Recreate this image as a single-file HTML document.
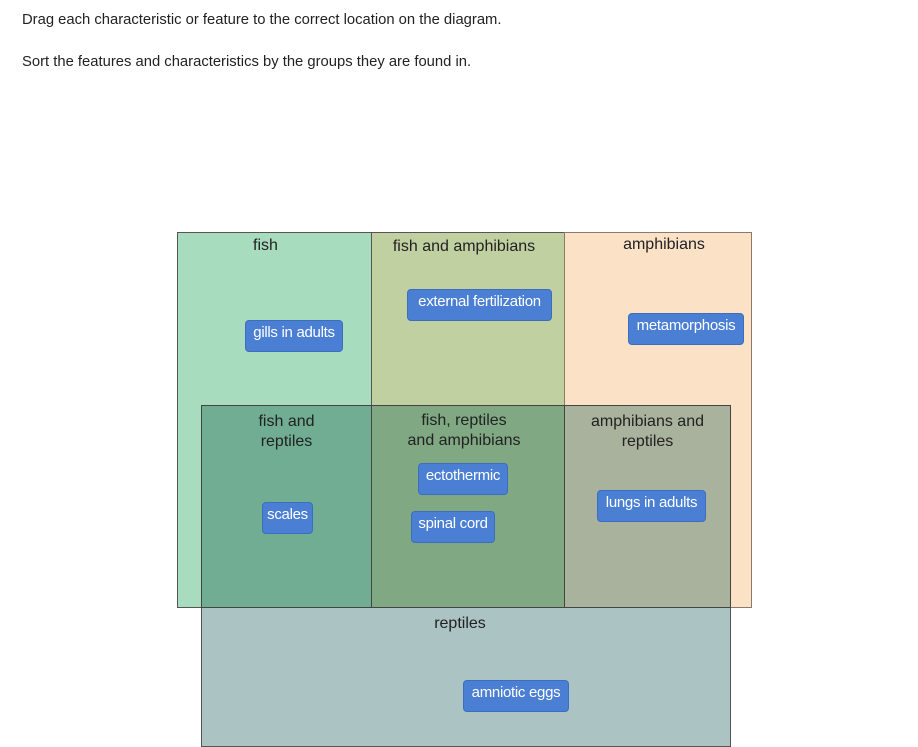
<!DOCTYPE html>
<html><head><meta charset="utf-8"><style>
body{margin:0;width:918px;height:738px;background:#fff;position:relative;overflow:hidden;font-family:"Liberation Sans",Arial,sans-serif}
.p{position:absolute;left:22px;font-size:14.8px;color:#222;margin:0}
.b{position:absolute;box-sizing:border-box}
.l{position:absolute;font-size:16px;color:#222;text-align:center;line-height:20px}
.c{position:absolute;background:#4a7fd4;color:#fff;font-size:15px;border-radius:4px;box-sizing:border-box;height:32px;line-height:22px;padding-top:1px;text-align:center;border:1px solid #3d6dbd;letter-spacing:-0.3px}
</style></head><body>
<p class="p" style="top:12px">Drag each characteristic or feature to the correct location on the diagram.</p>
<p class="p" style="top:54px">Sort the features and characteristics by the groups they are found in.</p>

<div class="b" style="left:177px;top:232px;width:195px;height:376px;background:#a8dcbe;border:1px solid #555"></div>
<div class="b" style="left:371px;top:232px;width:194px;height:174px;background:#c1d0a0;border:1px solid #555"></div>
<div class="b" style="left:564px;top:232px;width:188px;height:376px;background:#fbe2c7;border:1px solid #8a7a6a"></div>
<div class="b" style="left:201px;top:607px;width:530px;height:140px;background:#abc3c3;border:1px solid #555"></div>
<div class="b" style="left:201px;top:405px;width:171px;height:203px;background:#70ad93;border:1px solid #444"></div>
<div class="b" style="left:371px;top:405px;width:194px;height:203px;background:#7fa883;border:1px solid #444"></div>
<div class="b" style="left:564px;top:405px;width:167px;height:203px;background:#a8b29c;border:1px solid #444"></div>

<div class="l" style="left:177px;width:177px;top:236px">fish</div>
<div class="l" style="left:371px;width:186px;top:237px">fish and amphibians</div>
<div class="l" style="left:564px;width:200px;top:235px">amphibians</div>
<div class="l" style="left:201px;width:171px;top:412px">fish and<br>reptiles</div>
<div class="l" style="left:371px;width:186px;top:411px">fish, reptiles<br>and amphibians</div>
<div class="l" style="left:564px;width:167px;top:412px">amphibians and<br>reptiles</div>
<div class="l" style="left:371px;width:178px;top:614px">reptiles</div>

<div class="c" style="left:245px;top:320px;width:98px">gills in adults</div>
<div class="c" style="left:407px;top:289px;width:145px">external fertilization</div>
<div class="c" style="left:628px;top:313px;width:116px">metamorphosis</div>
<div class="c" style="left:418px;top:463px;width:90px">ectothermic</div>
<div class="c" style="left:262px;top:502px;width:51px">scales</div>
<div class="c" style="left:411px;top:511px;width:84px">spinal cord</div>
<div class="c" style="left:597px;top:490px;width:109px">lungs in adults</div>
<div class="c" style="left:463px;top:680px;width:106px">amniotic eggs</div>
</body></html>
